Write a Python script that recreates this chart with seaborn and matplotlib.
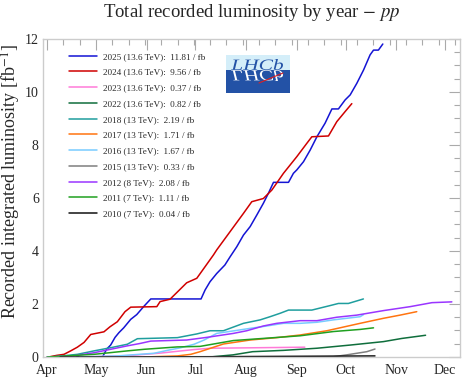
import numpy as np
import pandas as pd
import matplotlib
matplotlib.use('Agg')
import matplotlib.pyplot as plt
import seaborn as sns
from matplotlib.patches import Rectangle, PathPatch
from matplotlib.textpath import TextPath
from matplotlib.font_manager import FontProperties
from matplotlib.transforms import Affine2D

# days counted from 1 April, integrated luminosity in fb^-1
days_2025 = [18, 34, 36.6, 39, 41.7, 44.1, 47, 51.3, 55, 59.5, 63.6, 94.4, 96.9, 99.9, 104, 109, 112.2,
             116.3, 120.4, 124.5, 128.6, 132.6, 135.7, 138.8, 148, 151, 153.1, 157.2, 161.3, 165.4, 170.4,
             174.6, 178.6, 182.7, 185.8, 189.9, 194, 198, 200.1, 203.1, 205.8]
lumi_2025 = [0, 0, 0.3, 0.45, 0.74, 0.92, 1.1, 1.42, 1.6, 1.92, 2.19, 2.19, 2.53, 2.84, 3.15, 3.47, 3.78,
             4.16, 4.6, 4.92, 5.36, 5.8, 6.18, 6.59, 6.59, 6.93, 7.06, 7.37, 7.81, 8.31, 8.82,
             9.36, 9.36, 9.7, 9.89, 10.33, 10.83, 11.4, 11.58, 11.58, 11.81]

days_2024 = [1, 5.9, 10.4, 14.5, 18.6, 22.7, 26.8, 34.9, 38.6, 43.1, 47.8, 51.3, 67.3, 69.3, 75.4, 81.5,
             85.6, 91.8, 96.9, 102, 104, 112.2, 120.4, 125.5, 132.6, 137.8, 144.9, 153.1, 159.2, 162.3,
             172.5, 177.6, 182.7, 186.8]
lumi_2024 = [0, 0.06, 0.1, 0.23, 0.37, 0.55, 0.85, 0.95, 1.14, 1.33, 1.71, 1.88, 1.9, 2.09, 2.18, 2.55,
             2.8, 2.97, 3.41, 3.85, 4.04, 4.73, 5.42, 5.86, 5.98, 6.3, 6.93, 7.56, 8.06, 8.31,
             8.34, 8.88, 9.26, 9.56]

days_2023 = [20, 50, 70, 90, 100, 130, 158]
lumi_2023 = [0, 0.05, 0.15, 0.28, 0.33, 0.35, 0.37]

days_2022 = [100, 114, 126, 145, 165.4, 185.8, 206.2, 217.5, 229.7, 232]
lumi_2022 = [0, 0.08, 0.2, 0.25, 0.33, 0.45, 0.58, 0.7, 0.8, 0.82]

days_2018 = [3, 18.6, 28.8, 39, 49.2, 55.4, 79.9, 91.8, 99.9, 108.1, 120.4, 130.6, 136.7, 142.9, 148,
             162.3, 173.5, 178.6, 184.7, 193.9]
lumi_2018 = [0, 0.1, 0.23, 0.35, 0.48, 0.69, 0.73, 0.87, 0.99, 0.99, 1.27, 1.4, 1.52, 1.65, 1.77,
             1.77, 1.94, 2.02, 2.02, 2.19]

days_2017 = [59.5, 79.9, 88.1, 93.8, 108.1, 124.5, 140.8, 155.1, 171.5, 191.9, 206.2, 216.4, 226.6]
lumi_2017 = [0, 0.04, 0.1, 0.2, 0.49, 0.64, 0.73, 0.83, 0.99, 1.27, 1.46, 1.58, 1.71]

days_2016 = [20, 43, 65.6, 73.8, 82, 90.1, 96.3, 104, 124.5, 134.7, 144.9, 155.1, 165.4, 175.5, 191.9, 194]
lumi_2016 = [0, 0.04, 0.14, 0.25, 0.35, 0.48, 0.64, 0.89, 1.08, 1.17, 1.27, 1.27, 1.31, 1.4, 1.52, 1.6]

days_2015 = [150, 175.5, 183.7, 196, 201]
lumi_2015 = [0, 0.01, 0.08, 0.2, 0.3]

days_2012 = [0, 16.1, 28.8, 39, 49.2, 57, 63.6, 79.9, 85.6, 97.9, 114.2, 122.4, 132.6, 140.8, 155.1,
             165.4, 177.6, 189.9, 206.2, 222.6, 235.9, 248.1]
lumi_2012 = [0, 0.04, 0.16, 0.29, 0.42, 0.51, 0.6, 0.63, 0.64, 0.74, 0.89, 0.99, 1.17, 1.27, 1.37,
             1.37, 1.5, 1.58, 1.75, 1.9, 2.05, 2.08]

days_2011 = [0, 28.8, 49.2, 59.5, 79.9, 93.8, 114.2, 134.7, 155.1, 175.5, 191.9, 200.1]
lumi_2011 = [0, 0.1, 0.23, 0.29, 0.38, 0.4, 0.62, 0.71, 0.8, 0.96, 1.04, 1.1]

days_2010 = [8, 100, 201]
lumi_2010 = [0, 0.01, 0.04]

labels = ['2025 (13.6 TeV):  11.81 / fb', '2024 (13.6 TeV):  9.56 / fb', '2023 (13.6 TeV):  0.37 / fb',
          '2022 (13.6 TeV):  0.82 / fb', '2018 (13 TeV):  2.19 / fb', '2017 (13 TeV):  1.71 / fb',
          '2016 (13 TeV):  1.67 / fb', '2015 (13 TeV):  0.33 / fb', '2012 (8 TeV):  2.08 / fb',
          '2011 (7 TeV):  1.11 / fb', '2010 (7 TeV):  0.04 / fb']
colors = ['#1414d4', '#d00000', '#ff7ad8', '#0f6e3c', '#1f9e9e', '#ff7410', '#78cbff', '#7f7f7f',
          '#9a35ff', '#20a020', '#111111']
all_days = [days_2025, days_2024, days_2023, days_2022, days_2018, days_2017, days_2016, days_2015,
            days_2012, days_2011, days_2010]
all_lumi = [lumi_2025, lumi_2024, lumi_2023, lumi_2022, lumi_2018, lumi_2017, lumi_2016, lumi_2015,
            lumi_2012, lumi_2011, lumi_2010]

month_days = [0, 30, 61, 91, 122, 153, 183, 214, 244]
month_names = ['Apr', 'May', 'Jun', 'Jul', 'Aug', 'Sep', 'Oct', 'Nov', 'Dec']

df = pd.concat([pd.DataFrame({'day': d, 'lumi': l, 'label': lab})
                for d, l, lab in zip(all_days, all_lumi, labels)], ignore_index=True)

sns.set_theme(style='white')
plt.rcParams['font.family'] = ['Liberation Serif', 'DejaVu Serif']
plt.rcParams['mathtext.fontset'] = 'stix'

fig = plt.figure(figsize=(4.77, 3.89), dpi=100)
ax = fig.add_axes([0.090, 0.0823, 0.874, 0.8175])

sns.lineplot(data=df, x='day', y='lumi', hue='label', hue_order=labels,
             palette=dict(zip(labels, colors)), estimator=None, sort=False, lw=1.1, ax=ax)

ax.set_xlim(-2.5, 253)
ax.set_ylim(0, 12)
ax.set_xticks(month_days, month_names)
ax.set_xticks(np.arange(0, 253, 10), minor=True)
ax.set_yticks(range(0, 13, 2))
ax.set_yticks(np.arange(0, 12.1, 0.5), minor=True)
ax.tick_params(which='both', direction='in', top=True, right=True, color='#aaaaaa',
               labelsize=10, width=0.8)
ax.tick_params(which='major', length=8, pad=5)
ax.tick_params(which='minor', length=4)
ax.tick_params(axis='y', pad=3)
for sp in ax.spines.values():
    sp.set_color('#cccccc')
    sp.set_linewidth(1)

ax.set_xlabel('')
ax.set_ylabel('Recorded integrated luminosity [fb$^{-1}$]', fontsize=13, va='center')
ax.yaxis.set_label_coords(-0.075, 0.553)

handles, labs = ax.get_legend_handles_labels()
ax.legend(handles, labs, loc='upper left', bbox_to_anchor=(0.063, 0.958), frameon=False,
          fontsize=6.6, handlelength=3.0, handletextpad=0.65, labelspacing=0.8,
          borderpad=0, borderaxespad=0)

fig.text(0.527, 0.969, 'Total recorded luminosity by year $-$ $pp$', ha='center', va='center',
         fontsize=13.5)

# LHCb logo
lax = fig.add_axes([226 / 477, (389 - 93) / 389, 64 / 477, 38 / 389])
lax.set_xlim(0, 64)
lax.set_ylim(0, 38)
lax.axis('off')
lax.add_patch(Rectangle((0, 0), 64, 23, color='#2352a6', lw=0))
lax.add_patch(Rectangle((0, 23), 64, 15, color='#d4eef9', lw=0))
tp = TextPath((0, 0), 'LHCb', size=20, prop=FontProperties(family='Liberation Serif', style='italic'))
ext = tp.get_extents()
sx, sy = 52 / ext.width, 11 / ext.height
top = Affine2D().translate(-ext.x0, -ext.y0).scale(sx, sy).translate(5, 23)
bot = Affine2D().translate(-ext.x0, -ext.y0).scale(sx, -sy).translate(5, 23)
lax.add_patch(PathPatch(top.transform_path(tp), color='#2352a6', lw=0))
lax.add_patch(PathPatch(bot.transform_path(tp), color='white', lw=0))
lax.plot([33, 57], [10, 20], color='#e02020', lw=0.8)

fig.savefig('out.png', dpi=100)
